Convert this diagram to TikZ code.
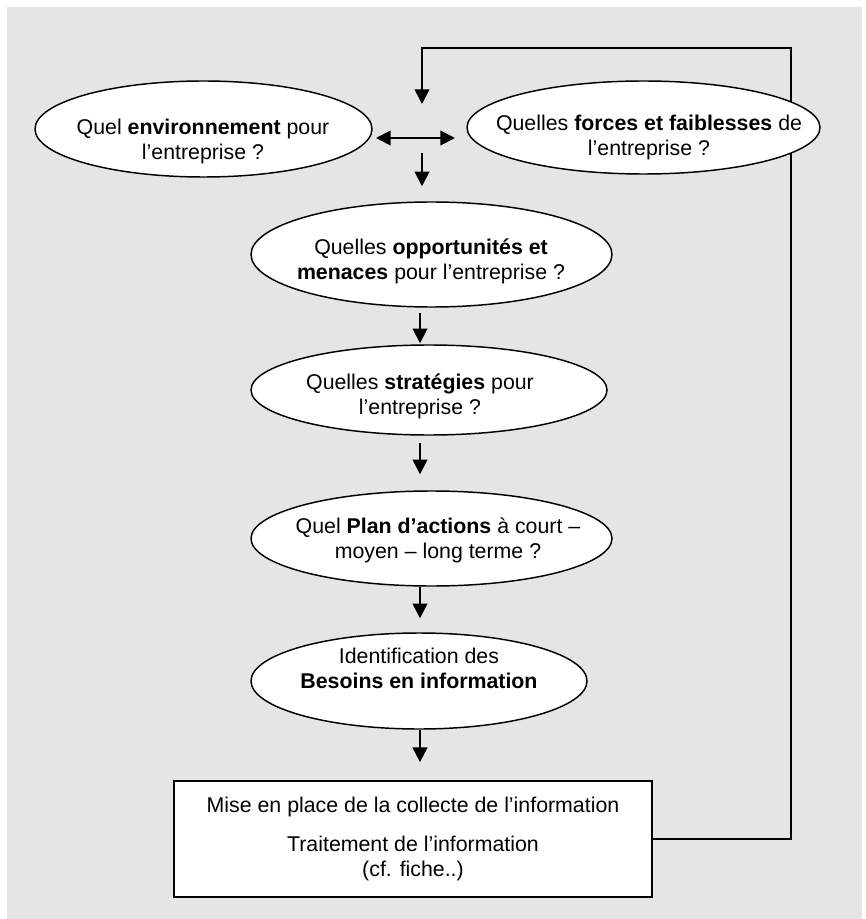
\documentclass[tikz,border=0pt]{standalone}
\usepackage{fontspec}
\setmainfont{Liberation Sans}
\usepackage{tikz}
\usetikzlibrary{shapes.geometric, arrows.meta, backgrounds, calc}
\definecolor{fondgris}{RGB}{229,229,229}

\begin{document}
\begin{tikzpicture}[x=0.75pt, y=-0.75pt,
    >={Triangle[length=11pt, width=11pt]},
    bulle/.style={draw, ellipse, line width=1.1pt, fill=white, inner sep=0pt},
    texte/.style={align=center, font=\fontsize{16}{18.75}\selectfont},
    fleche/.style={line width=1.4pt, ->},
    cadre/.style={draw, line width=1.3pt, fill=white, minimum width=358.5pt, minimum height=87pt}]
    \useasboundingbox (0,0) rectangle (865,919);

    % Les bulles
    \node[bulle, minimum width=252.75pt, minimum height=72pt] (env) at (203.5,129) {};
    \node[texte] (envtxt) at (203,141) {Quel \textbf{environnement} pour\\l’entreprise ?};

    \node[bulle, minimum width=264.75pt, minimum height=69.75pt] (forces) at (643.5,127.5) {};
    \node[texte] (forcestxt) at (649,137) {Quelles \textbf{forces et faiblesses} de\\l’entreprise ?};

    \node[bulle, minimum width=270.75pt, minimum height=78.75pt] (opp) at (431.5,254.5) {};
    \node[texte] (opptxt) at (431,261) {Quelles \textbf{opportunités et}\\\textbf{menaces} pour l’entreprise ?};

    \node[bulle, minimum width=267pt, minimum height=67.5pt] (strat) at (429,390) {};
    \node[texte] (strattxt) at (420,396.5) {Quelles \textbf{stratégies} pour\\l’entreprise ?};

    \node[bulle, minimum width=270.75pt, minimum height=71.25pt] (plan) at (431.5,538.5) {};
    \node[texte] (plantxt) at (438,540) {Quel \textbf{Plan d’actions} à court –\\moyen – long terme ?};

    \node[bulle, minimum width=252pt, minimum height=72pt] (besoins) at (419,681) {};
    \node[texte] (besoinstxt) at (419,668) {Identification des\\\textbf{Besoins en information}};

    % Le cadre du bas
    \node[cadre, texte] (collecte) at (413,839) {Mise en place de la collecte de l’information\\[11pt]Traitement de l’information\\(cf. fiche..)};

    % Les fleches
    \coordinate (axe) at (420,0);
    \coordinate (dblg) at (376,138);
    \coordinate (dbld) at (455,138);
    \coordinate (carrefour) at (422,153);
    \coordinate (coin) at (791,48);
    \coordinate (arrivee) at (422,104);

    \draw[fleche, <->] (dblg) -- (dbld);
    \draw[fleche, shorten >=11.25pt] (carrefour) -- (carrefour |- opp.north);
    \draw[fleche, shorten <=3.75pt, shorten >=0.75pt] (axe |- opp.south) -- (axe |- strat.north);
    \draw[fleche, shorten <=5.25pt, shorten >=12pt] (axe |- strat.south) -- (axe |- plan.north);
    \draw[fleche, shorten >=10.5pt] (axe |- plan.south) -- (axe |- besoins.north);
    \draw[fleche, shorten >=13.5pt] (axe |- besoins.south) -- (axe |- collecte.north);

    \begin{scope}[on background layer]
        \fill[fondgris] (7,7) rectangle (862,919);
        % retour vers le haut
        \draw[fleche] (collecte.east) -| (coin) -| (arrivee);
    \end{scope}
\end{tikzpicture}
\end{document}
